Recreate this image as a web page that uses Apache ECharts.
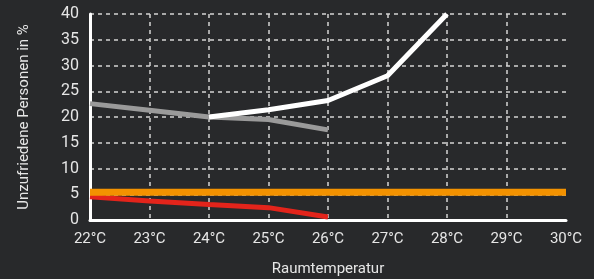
<!DOCTYPE html>
<html><head><meta charset="utf-8">
<script src="https://cdn.jsdelivr.net/npm/echarts@6/dist/echarts.min.js"></script>
<style>html,body{margin:0;padding:0;background:#28292b;}#c{width:594px;height:279px;}</style>
</head><body><div id="c"></div>
<script>
const temps = [22, 23, 24, 25, 26, 27, 28, 29, 30];
const whiteVals = [null, null, 20, 21.4, 23.2, 28.0, 40, null, null];
const grayVals = [22.6, 21.3, 20, 19.5, 17.5, null, null, null, null];
const orangeVals = [5.4, 5.4, 5.4, 5.4, 5.4, 5.4, 5.4, 5.4, 5.4];
const redVals = [4.5, 3.7, 3.0, 2.4, 0.6, null, null, null, null];
const yTicks = [0, 5, 10, 15, 20, 25, 30, 35, 40];

const toPts = v => temps.map((t, i) => [t, v[i]]).filter(p => p[1] !== null);
const txt = '#e6e6e6';
const font = 'Roboto';
const chart = echarts.init(document.getElementById('c'));
chart.setOption({
  backgroundColor: '#28292b',
  animation: false,
  grid: {left: 90, right: 28, top: 14, bottom: 59, containLabel: false, outerBoundsMode: 'none'},
  xAxis: {
    type: 'value', min: 22, max: 30, interval: 1,
    name: 'Raumtemperatur', nameLocation: 'middle', nameGap: 42,
    nameTextStyle: {color: txt, fontSize: 15, fontFamily: font},
    axisLine: {show: true, lineStyle: {color: '#ffffff', width: 3}},
    axisTick: {show: false},
    axisLabel: {color: txt, fontSize: 15, fontFamily: font, margin: 12, formatter: v => v + '°C'},
    splitLine: {show: true, showMinLine: false, showMaxLine: false, lineStyle: {color: '#d4d4d4', width: 1.5, type: [4, 4]}}
  },
  yAxis: {
    type: 'value', min: 0, max: 40, interval: 5,
    name: 'Unzufriedene Personen in %', nameLocation: 'middle', nameGap: 58,
    nameTextStyle: {color: txt, fontSize: 15, fontFamily: font},
    axisLine: {show: true, lineStyle: {color: '#ffffff', width: 3}},
    axisTick: {show: false},
    axisLabel: {color: txt, fontSize: 16, fontFamily: font, margin: 11,
      formatter: v => yTicks.includes(v) ? String(v) : ''},
    splitLine: {show: true, showMinLine: false, lineStyle: {color: '#d4d4d4', width: 1.5, type: [4, 4]}}
  },
  series: [
    {type: 'line', data: toPts(grayVals), showSymbol: false, lineStyle: {color: '#9a9a9a', width: 5}, z: 3},
    {type: 'line', data: toPts(whiteVals), showSymbol: false, lineStyle: {color: '#ffffff', width: 5}, z: 4},
    {type: 'line', data: toPts(orangeVals), showSymbol: false, lineStyle: {color: '#f39200', width: 7}, z: 3},
    {type: 'line', data: toPts(redVals), showSymbol: false, lineStyle: {color: '#e3241b', width: 5}, z: 2}
  ]
});
</script></body></html>
